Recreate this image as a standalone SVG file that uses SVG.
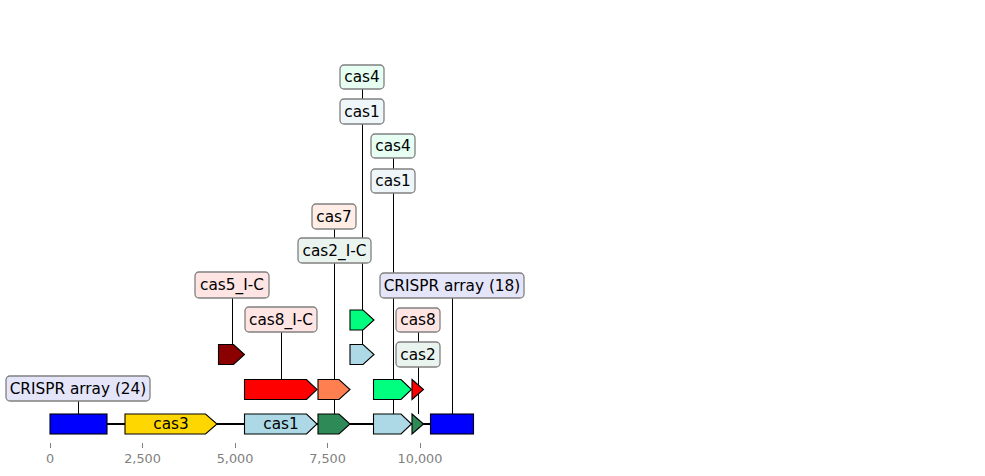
<svg xmlns="http://www.w3.org/2000/svg" width="985" height="476" viewBox="0 0 985 476">
<style>
text{font-family:"DejaVu Sans","Liberation Sans",sans-serif;}
.lbl{font-size:15.3px;fill:#000;text-anchor:middle;dominant-baseline:central;}
.box{stroke:#808080;stroke-width:1.3;}
.f{stroke:#000;stroke-width:1.1;stroke-linejoin:miter;}
.ln{stroke:#000;stroke-width:1;fill:none;}
.tick{stroke:#808080;stroke-width:1;}
.tl{font-size:12.8px;fill:#808080;text-anchor:middle;}
</style>
<rect width="985" height="476" fill="#fff"/>
<g id="connectors">
<line class="ln" x1="78.5" y1="401" x2="78.5" y2="414"/>
<line class="ln" x1="232.5" y1="298" x2="232.5" y2="345"/>
<line class="ln" x1="281.5" y1="332" x2="281.5" y2="379"/>
<line class="ln" x1="334.5" y1="229" x2="334.5" y2="238"/>
<line class="ln" x1="334.5" y1="263" x2="334.5" y2="414"/>
<line class="ln" x1="362.5" y1="89" x2="362.5" y2="99"/>
<line class="ln" x1="362.5" y1="124" x2="362.5" y2="345"/>
<line class="ln" x1="393.5" y1="158" x2="393.5" y2="169"/>
<line class="ln" x1="393.5" y1="193" x2="393.5" y2="414"/>
<line class="ln" x1="452.5" y1="298" x2="452.5" y2="414"/>
<line class="ln" x1="418.5" y1="332" x2="418.5" y2="342"/>
<line class="ln" x1="418.5" y1="367" x2="418.5" y2="414"/>
</g>
<g id="axis">
<line x1="50" y1="424" x2="473" y2="424" stroke="#000" stroke-width="2"/>
<line class="tick" x1="50.5" y1="443" x2="50.5" y2="448"/>
<line class="tick" x1="142.5" y1="443" x2="142.5" y2="448"/>
<line class="tick" x1="235.5" y1="443" x2="235.5" y2="448"/>
<line class="tick" x1="327.5" y1="443" x2="327.5" y2="448"/>
<line class="tick" x1="420.5" y1="443" x2="420.5" y2="448"/>
<text class="tl" x="50" y="463">0</text>
<text class="tl" x="142.5" y="463">2,500</text>
<text class="tl" x="235" y="463">5,000</text>
<text class="tl" x="327.5" y="463">7,500</text>
<text class="tl" x="420" y="463">10,000</text>
</g>
<g id="features">
<g id="f-crispr24"><rect class="f" x="50" y="414" width="57" height="20" fill="#0000FF"/></g>
<g id="f-cas3"><polygon class="f" points="125,414 205.5,414 217,424 205.5,434 125,434" fill="#FFD700"/><text class="lbl" x="171" y="424">cas3</text></g>
<g id="f-cas1a"><polygon class="f" points="244.5,414 306.5,414 317,424 306.5,434 244.5,434" fill="#ADD8E6"/><text class="lbl" x="281" y="424">cas1</text></g>
<g id="f-g1"><polygon class="f" points="318,414 339,414 350,424 339,434 318,434" fill="#2E8B57"/></g>
<g id="f-lb1"><polygon class="f" points="373.5,414 401,414 411.5,424 401,434 373.5,434" fill="#ADD8E6"/></g>
<g id="f-g2"><polygon class="f" points="412,414 423.5,424 412,434" fill="#2E8B57"/></g>
<g id="f-crispr18"><rect class="f" x="430.5" y="414" width="43" height="20" fill="#0000FF"/></g>
<g id="f-red1"><polygon class="f" points="244.5,379.5 306.5,379.5 317,389.5 306.5,399.5 244.5,399.5" fill="#FF0000"/></g>
<g id="f-coral"><polygon class="f" points="318,379.5 339,379.5 350,389.5 339,399.5 318,399.5" fill="#FF7F50"/></g>
<g id="f-sg1"><polygon class="f" points="373.5,379.5 401,379.5 411.5,389.5 401,399.5 373.5,399.5" fill="#00FF7F"/></g>
<g id="f-red2"><polygon class="f" points="412,379.5 423.5,389.5 412,399.5" fill="#FF0000"/></g>
<g id="f-darkred"><polygon class="f" points="218.5,344.5 233.5,344.5 244.5,354.5 233.5,364.5 218.5,364.5" fill="#8B0000"/></g>
<g id="f-lb2"><polygon class="f" points="350,344.5 363,344.5 374,354.5 363,364.5 350,364.5" fill="#ADD8E6"/></g>
<g id="f-sg2"><polygon class="f" points="350,310 363,310 374,320 363,330 350,330" fill="#00FF7F"/></g>
</g>
<g id="labels">
<g id="l-crispr24"><rect class="box" x="6" y="376" width="144" height="25" rx="4" fill="#E5E5FA"/><text class="lbl" x="78" y="388.5">CRISPR array (24)</text></g>
<g id="l-cas5"><rect class="box" x="195" y="272" width="74" height="26" rx="4" fill="#FFE4E4"/><text class="lbl" x="232" y="285">cas5_I-C</text></g>
<g id="l-cas8ic"><rect class="box" x="245" y="307" width="72" height="25" rx="4" fill="#FFE4E4"/><text class="lbl" x="281" y="319.5">cas8_I-C</text></g>
<g id="l-cas7"><rect class="box" x="312" y="204" width="44" height="25" rx="4" fill="#FFEDE6"/><text class="lbl" x="334" y="216.5">cas7</text></g>
<g id="l-cas2ic"><rect class="box" x="298" y="238" width="73" height="25" rx="4" fill="#EAF4EE"/><text class="lbl" x="334.5" y="250.5">cas2_I-C</text></g>
<g id="l-cas4a"><rect class="box" x="340" y="65" width="44" height="24" rx="4" fill="#E6FFF2"/><text class="lbl" x="362" y="77">cas4</text></g>
<g id="l-cas1a"><rect class="box" x="340" y="99" width="44" height="25" rx="4" fill="#EEF6F9"/><text class="lbl" x="362" y="111.5">cas1</text></g>
<g id="l-cas4b"><rect class="box" x="371" y="134" width="44" height="24" rx="4" fill="#E6FFF2"/><text class="lbl" x="393" y="146">cas4</text></g>
<g id="l-cas1b"><rect class="box" x="371" y="169" width="44" height="24" rx="4" fill="#EEF6F9"/><text class="lbl" x="393" y="181">cas1</text></g>
<g id="l-crispr18"><rect class="box" x="380" y="273" width="144" height="25" rx="4" fill="#E5E5FA"/><text class="lbl" x="452" y="285.5">CRISPR array (18)</text></g>
<g id="l-cas8"><rect class="box" x="396" y="308" width="44" height="24" rx="4" fill="#FFE4E4"/><text class="lbl" x="418" y="320">cas8</text></g>
<g id="l-cas2"><rect class="box" x="396" y="342" width="44" height="25" rx="4" fill="#EAF4EE"/><text class="lbl" x="418" y="354.5">cas2</text></g>
</g>
</svg>
